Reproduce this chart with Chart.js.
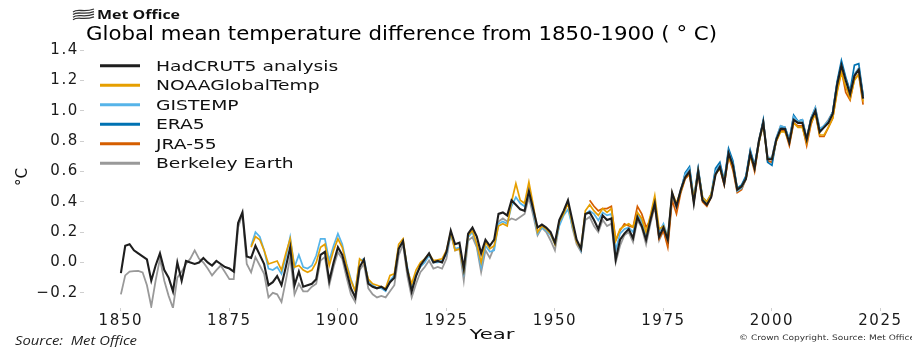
<!DOCTYPE html>
<html>
<head>
<meta charset="utf-8">
<script src="https://cdn.jsdelivr.net/npm/chart.js@4.4.1/dist/chart.umd.min.js"></script>
<style>
html,body{margin:0;padding:0;background:#ffffff;overflow:hidden}
canvas{display:block}
</style>
</head>
<body>
<canvas id="c" width="912" height="347" style="width:912px;height:347px"></canvas>
<script>
// ---------------- DATA ----------------
const titleText = "Global mean temperature difference from 1850-1900 ( \u00B0 C)";
const seriesNames = ["HadCRUT5 analysis", "NOAAGlobalTemp", "GISTEMP", "ERA5", "JRA-55", "Berkeley Earth"];
const xTickValues = [1850, 1875, 1900, 1925, 1950, 1975, 2000, 2025];
const xTickLabels = ["1850", "1875", "1900", "1925", "1950", "1975", "2000", "2025"];
const yTickValues = [-0.2, 0.0, 0.2, 0.4, 0.6, 0.8, 1.0, 1.2, 1.4];
const yTickLabels = ["\u22120.2", "0.0", "0.2", "0.4", "0.6", "0.8", "1.0", "1.2", "1.4"];

const hadcrutStart = 1850;
const hadcrut5 = [
  -0.07, 0.11, 0.12, 0.08, 0.06, 0.04, 0.02, -0.12, -0.02, 0.06,
  -0.05, -0.10, -0.19, 0.00, -0.12, 0.01, 0.00, -0.01, 0.00, 0.03,
  0.00, -0.02, 0.01, -0.01, -0.03, -0.04, -0.06, 0.26, 0.33, 0.04,
  0.03, 0.11, 0.05, -0.01, -0.15, -0.13, -0.09, -0.15, -0.03, 0.10,
  -0.15, -0.06, -0.16, -0.15, -0.14, -0.11, 0.05, 0.07, -0.12, 0.00,
  0.10, 0.05, -0.06, -0.17, -0.23, -0.03, 0.02, -0.14, -0.16, -0.17,
  -0.16, -0.18, -0.13, -0.10, 0.09, 0.14, -0.05, -0.19, -0.09, -0.02,
  0.02, 0.06, 0.00, 0.01, 0.00, 0.07, 0.21, 0.12, 0.13, -0.04,
  0.19, 0.23, 0.17, 0.06, 0.15, 0.11, 0.15, 0.32, 0.33, 0.31,
  0.41, 0.38, 0.35, 0.34, 0.47, 0.35, 0.23, 0.25, 0.23, 0.20,
  0.13, 0.28, 0.34, 0.41, 0.28, 0.15, 0.09, 0.32, 0.33, 0.28,
  0.22, 0.31, 0.28, 0.29, 0.02, 0.15, 0.19, 0.22, 0.16, 0.30,
  0.24, 0.15, 0.28, 0.39, 0.17, 0.23, 0.15, 0.46, 0.37, 0.48,
  0.56, 0.60, 0.39, 0.60, 0.41, 0.38, 0.43, 0.58, 0.63, 0.52,
  0.72, 0.64, 0.48, 0.50, 0.55, 0.72, 0.62, 0.80, 0.92, 0.68,
  0.68, 0.81, 0.88, 0.88, 0.79, 0.94, 0.92, 0.92, 0.81, 0.94,
  1.00, 0.86, 0.89, 0.92, 0.98, 1.17, 1.30, 1.20, 1.11, 1.23,
  1.27, 1.08
];

const noaaStart = 1880;
const noaa = [
  0.10, 0.17, 0.15, 0.08, -0.01, 0.00, 0.01, -0.05, 0.06, 0.155,
  -0.03, -0.02, -0.05, -0.065, -0.05, 0.00, 0.10, 0.12, -0.02, 0.08,
  0.156, 0.10, -0.02, -0.12, -0.19, 0.024, 0.00, -0.11, -0.14, -0.15,
  -0.16, -0.17, -0.085, -0.075, 0.12, 0.156, -0.05, -0.14, -0.05, 0.00,
  0.024, 0.057, 0.013, 0.017, 0.024, 0.079, 0.20, 0.08, 0.09, -0.05,
  0.18, 0.21, 0.12, 0.00, 0.135, 0.09, 0.11, 0.24, 0.255, 0.24,
  0.40, 0.52, 0.41, 0.39, 0.53, 0.38, 0.20, 0.24, 0.22, 0.19,
  0.12, 0.27, 0.32, 0.39, 0.255, 0.135, 0.09, 0.34, 0.38, 0.34,
  0.31, 0.355, 0.33, 0.355, 0.145, 0.22, 0.24, 0.255, 0.233, 0.33,
  0.29, 0.20, 0.31, 0.44, 0.22, 0.24, 0.156, 0.46, 0.39, 0.47,
  0.56, 0.59, 0.42, 0.60, 0.43, 0.40, 0.45, 0.58, 0.62, 0.53,
  0.70, 0.63, 0.48, 0.50, 0.55, 0.70, 0.62, 0.79, 0.91, 0.68,
  0.68, 0.80, 0.86, 0.86, 0.79, 0.92, 0.89, 0.89, 0.79, 0.92,
  0.98, 0.84, 0.84, 0.89, 0.95, 1.12, 1.25, 1.16, 1.08, 1.20,
  1.24, 1.06
];

const gistempStart = 1880;
const gistemp = [
  0.11, 0.20, 0.17, 0.08, -0.04, -0.05, -0.03, -0.075, 0.035, 0.167,
  -0.03, 0.05, -0.03, -0.04, -0.02, 0.046, 0.156, 0.156, 0.013, 0.11,
  0.19, 0.12, -0.01, -0.11, -0.19, 0.013, 0.024, -0.12, -0.15, -0.17,
  -0.17, -0.19, -0.12, -0.085, 0.10, 0.135, -0.03, -0.17, -0.075, -0.03,
  0.00, 0.046, 0.00, 0.00, 0.013, 0.057, 0.19, 0.09, 0.10, -0.064,
  0.167, 0.20, 0.11, -0.03, 0.11, 0.07, 0.08, 0.255, 0.27, 0.255,
  0.37, 0.43, 0.39, 0.37, 0.46, 0.34, 0.19, 0.23, 0.21, 0.18,
  0.12, 0.24, 0.31, 0.35, 0.24, 0.145, 0.08, 0.32, 0.34, 0.32,
  0.277, 0.33, 0.31, 0.32, 0.08, 0.19, 0.22, 0.23, 0.20, 0.32,
  0.27, 0.18, 0.30, 0.41, 0.20, 0.255, 0.17, 0.45, 0.38, 0.48,
  0.58, 0.62, 0.41, 0.61, 0.42, 0.39, 0.44, 0.60, 0.64, 0.53,
  0.73, 0.65, 0.47, 0.49, 0.55, 0.73, 0.63, 0.79, 0.92, 0.69,
  0.69, 0.82, 0.90, 0.89, 0.81, 0.96, 0.93, 0.94, 0.81, 0.95,
  1.02, 0.88, 0.90, 0.93, 0.99, 1.17, 1.30, 1.21, 1.12, 1.24,
  1.28, 1.10
];

const era5Start = 1979;
const era5 = [
  0.47,
  0.59, 0.63, 0.42, 0.62, 0.43, 0.40, 0.45, 0.62, 0.66, 0.54,
  0.75, 0.67, 0.49, 0.51, 0.57, 0.74, 0.64, 0.80, 0.94, 0.66,
  0.64, 0.81, 0.89, 0.89, 0.80, 0.97, 0.93, 0.94, 0.81, 0.95,
  1.01, 0.87, 0.90, 0.93, 0.99, 1.19, 1.33, 1.22, 1.13, 1.30,
  1.31, 1.10
];

const jra55Start = 1958;
const jra55 = [
  0.41, 0.37,
  0.34, 0.355, 0.355, 0.37, 0.145, 0.21, 0.255, 0.24, 0.233, 0.37,
  0.32, 0.233, 0.277, 0.387, 0.156, 0.21, 0.10, 0.41, 0.32, 0.46,
  0.55, 0.58, 0.40, 0.58, 0.40, 0.37, 0.43, 0.59, 0.62, 0.51,
  0.70, 0.61, 0.46, 0.48, 0.55, 0.71, 0.60, 0.79, 0.93, 0.67,
  0.66, 0.80, 0.87, 0.87, 0.77, 0.92, 0.90, 0.90, 0.77, 0.91,
  0.99, 0.83, 0.83, 0.89, 0.95, 1.13, 1.27, 1.12, 1.07, 1.21,
  1.24, 1.04
];

const berkeleyStart = 1850;
const berkeley = [
  -0.21, -0.085, -0.06, -0.057, -0.055, -0.065, -0.15, -0.29, -0.12, 0.025,
  -0.12, -0.22, -0.30, -0.10, -0.06, -0.01, 0.025, 0.08, 0.025, 0.00,
  -0.04, -0.085, -0.05, -0.02, -0.065, -0.11, -0.11, 0.23, 0.32, -0.01,
  -0.065, 0.035, -0.02, -0.075, -0.23, -0.20, -0.21, -0.26, -0.12, 0.035,
  -0.21, -0.14, -0.19, -0.19, -0.16, -0.14, 0.013, 0.035, -0.15, -0.03,
  0.068, 0.024, -0.10, -0.21, -0.26, -0.05, -0.01, -0.17, -0.21, -0.23,
  -0.22, -0.23, -0.19, -0.15, 0.046, 0.12, -0.09, -0.23, -0.14, -0.064,
  -0.03, 0.013, -0.04, -0.03, -0.04, 0.024, 0.19, 0.079, 0.09, -0.12,
  0.145, 0.167, 0.10, -0.064, 0.08, 0.03, 0.10, 0.27, 0.29, 0.27,
  0.29, 0.28, 0.30, 0.32, 0.43, 0.31, 0.18, 0.23, 0.20, 0.145,
  0.08, 0.255, 0.32, 0.40, 0.23, 0.12, 0.07, 0.28, 0.30, 0.24,
  0.20, 0.28, 0.24, 0.255, 0.00, 0.11, 0.18, 0.20, 0.135, 0.28,
  0.23, 0.12, 0.255, 0.37, 0.145, 0.21, 0.12, 0.44, 0.36, 0.47,
  0.57, 0.61, 0.40, 0.61, 0.42, 0.39, 0.44, 0.60, 0.64, 0.53,
  0.73, 0.65, 0.48, 0.51, 0.56, 0.73, 0.63, 0.81, 0.93, 0.69,
  0.69, 0.82, 0.90, 0.89, 0.81, 0.96, 0.93, 0.94, 0.82, 0.95,
  1.02, 0.88, 0.90, 0.94, 0.99, 1.18, 1.30, 1.21, 1.12, 1.24,
  1.28, 1.10
];

// ---------------- STYLE ----------------
const colors = ["#1e1e1e", "#E69F00", "#56B4E9", "#0072B2", "#D55E00", "#999999"];
const widths = [2.1, 1.7, 1.7, 1.7, 1.7, 1.8];

function toPoints(start, vals) {
  return vals.map((v, i) => ({ x: start + i, y: v }));
}
const seriesData = [
  toPoints(hadcrutStart, hadcrut5),
  toPoints(noaaStart, noaa),
  toPoints(gistempStart, gistemp),
  toPoints(era5Start, era5),
  toPoints(jra55Start, jra55),
  toPoints(berkeleyStart, berkeley)
];

const TICK_SPACING = '1.6px';

function drawStretched(ctx, text, x, y, font, sx, align) {
  ctx.save();
  ctx.font = font;
  ctx.textAlign = align || 'left';
  ctx.textBaseline = 'alphabetic';
  ctx.translate(x, y);
  ctx.scale(sx, 1);
  ctx.fillText(text, 0, 0);
  ctx.restore();
}
function drawFit(ctx, text, x, y, font, targetW, align) {
  ctx.save();
  ctx.font = font;
  const w = ctx.measureText(text).width;
  ctx.restore();
  drawStretched(ctx, text, x, y, font, targetW / w, align);
}

const spacingPlugin = {
  id: 'spacing',
  beforeDraw(chart) { chart.ctx.letterSpacing = TICK_SPACING; },
  beforeDatasetsDraw(chart) { chart.ctx.letterSpacing = '0px'; },
  afterDraw(chart) { chart.ctx.letterSpacing = '0px'; }
};

const decorPlugin = {
  id: 'decor',
  afterDraw(chart) {
    const ctx = chart.ctx;
    ctx.save();
    ctx.letterSpacing = '0px';
    ctx.fillStyle = '#111111';

    // Met Office logo mark (waves)
    ctx.strokeStyle = '#333333';
    ctx.lineWidth = 1.3;
    for (let k = 0; k < 4; k++) {
      const oy = 9 + k * 2.6;
      ctx.beginPath();
      ctx.moveTo(73, oy + 3);
      ctx.bezierCurveTo(78, oy - 1, 83, oy + 4, 94, oy);
      ctx.stroke();
    }
    drawFit(ctx, "Met Office", 97, 18.5, "bold 13px 'Open Sans'", 83, 'left');

    // Title
    ctx.fillStyle = '#000000';
    drawFit(ctx, titleText, 86, 40, "20px 'DejaVu Sans'", 631, 'left');

    // Legend
    chart.data.datasets.forEach((ds, i) => {
      const yy = 65.7 + i * 19.5;
      ctx.strokeStyle = ds.borderColor;
      ctx.lineWidth = 3;
      ctx.beginPath();
      ctx.moveTo(100, yy);
      ctx.lineTo(140, yy);
      ctx.stroke();
      ctx.fillStyle = '#111111';
      drawStretched(ctx, ds.label, 156, yy + 5.2, "14.5px 'DejaVu Sans'", 1.29, 'left');
    });

    // Y axis title
    ctx.save();
    ctx.translate(27, 177);
    ctx.rotate(-Math.PI / 2);
    ctx.fillStyle = '#111111';
    ctx.font = "15px 'DejaVu Sans'";
    ctx.textAlign = 'center';
    ctx.textBaseline = 'alphabetic';
    ctx.fillText("\u00B0C", 0, 0);
    ctx.restore();

    // X axis title
    ctx.fillStyle = '#111111';
    drawFit(ctx, "Year", 492, 339, "14px 'DejaVu Sans'", 45, 'center');

    // Source note
    ctx.fillStyle = '#222222';
    drawFit(ctx, "Source:  Met Office", 15, 344.5, "italic 13px 'Open Sans'", 122, 'left');

    // Copyright
    ctx.fillStyle = '#333333';
    drawFit(ctx, "\u00A9 Crown Copyright. Source: Met Office", 739, 340, "7.5px 'DejaVu Sans'", 176, 'left');

    ctx.restore();
  }
};

const ctx = document.getElementById('c').getContext('2d');
new Chart(ctx, {
  type: 'line',
  data: {
    datasets: seriesNames.map((name, i) => ({
      label: name,
      data: seriesData[i],
      borderColor: colors[i],
      backgroundColor: colors[i],
      borderWidth: widths[i],
      pointRadius: 0,
      tension: 0,
      fill: false
    }))
  },
  options: {
    responsive: false,
    animation: false,
    devicePixelRatio: 1,
    parsing: true,
    layout: { padding: { top: 50, right: 12, left: 0, bottom: 0 } },
    plugins: { legend: { display: false }, tooltip: { enabled: false }, title: { display: false } },
    scales: {
      x: {
        type: 'linear',
        min: 1841.5,
        max: 2029.5,
        afterBuildTicks(s) { s.ticks = xTickValues.map(v => ({ value: v })); },
        afterFit(s) { s.height = 39; },
        ticks: {
          autoSkip: false,
          maxRotation: 0,
          minRotation: 0,
          padding: 1,
          color: '#1a1a1a',
          font: { family: "'DejaVu Sans'", size: 15 },
          callback: (v, i) => xTickLabels[i]
        },
        grid: { drawOnChartArea: false, drawTicks: true, tickLength: 3, color: '#cfcfcf', lineWidth: 1 },
        border: { display: false }
      },
      y: {
        type: 'linear',
        min: -0.3,
        max: 1.4,
        afterBuildTicks(s) { s.ticks = yTickValues.map(v => ({ value: v })); },
        afterFit(s) { s.width = 84; },
        ticks: {
          padding: 1,
          color: '#1a1a1a',
          font: { family: "'DejaVu Sans'", size: 15 },
          callback: (v, i) => yTickLabels[i]
        },
        grid: { drawOnChartArea: false, drawTicks: true, tickLength: 4, color: '#cfcfcf', lineWidth: 1 },
        border: { display: false }
      }
    }
  },
  plugins: [spacingPlugin, decorPlugin]
});
</script>
</body>
</html>
